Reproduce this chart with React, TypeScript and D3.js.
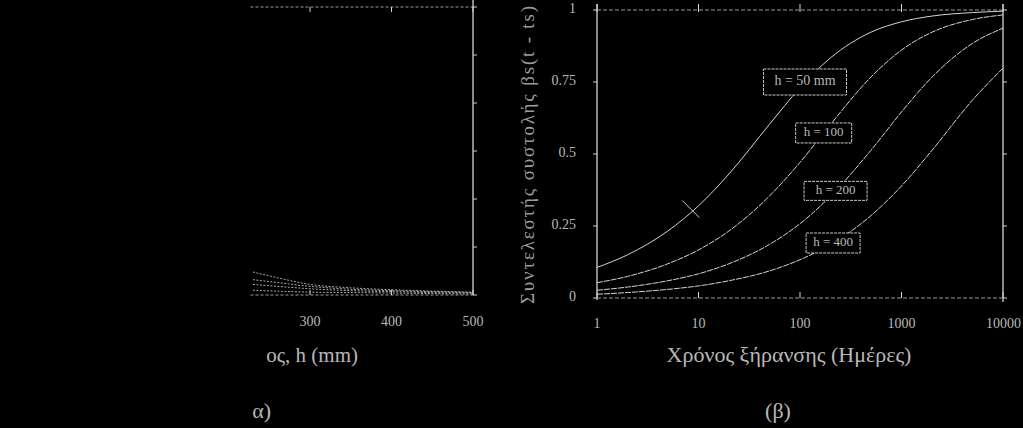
import React from 'react';
import * as d3 from 'd3';

// ---------- Right panel (β): shrinkage time coefficient vs drying time ----------
const days = [1, 2, 5, 10, 20, 50, 100, 200, 500, 1000, 2000, 5000, 10000];
const beta50 = [0.106, 0.150, 0.233, 0.320, 0.431, 0.603, 0.730, 0.834, 0.923, 0.959, 0.979, 0.991, 0.996];
const beta100 = [0.053, 0.075, 0.119, 0.167, 0.233, 0.354, 0.471, 0.603, 0.767, 0.861, 0.923, 0.967, 0.983];
const beta200 = [0.027, 0.038, 0.060, 0.084, 0.119, 0.186, 0.258, 0.354, 0.513, 0.646, 0.767, 0.884, 0.937];
const beta400 = [0.013, 0.019, 0.030, 0.042, 0.060, 0.094, 0.133, 0.186, 0.286, 0.389, 0.513, 0.687, 0.798];
const seriesBeta = [beta50, beta100, beta200, beta400];

const curveLabels = ['h = 50 mm', 'h = 100', 'h = 200', 'h = 400'];
const labelDays = [112, 171, 224, 212];
const labelValues = [0.75, 0.573, 0.372, 0.191];

const xTicks = [1, 10, 100, 1000, 10000];
const xTickLabels = ['1', '10', '100', '1000', '10000'];
const yTicks = [0, 0.25, 0.5, 0.75, 1];
const yTickLabels = ['0', '0.25', '0.5', '0.75', '1'];

// ---------- Left panel (α), mostly cut off ----------
const thickness = [230, 260, 300, 350, 400, 450, 500];
const leftA = [0.48, 0.36, 0.22, 0.15, 0.11, 0.08, 0.06];
const leftB = [0.32, 0.26, 0.18, 0.12, 0.09, 0.07, 0.05];
const leftC = [0.22, 0.18, 0.13, 0.09, 0.07, 0.05, 0.04];
const leftD = [0.10, 0.08, 0.06, 0.05, 0.04, 0.03, 0.02];
const leftSeries = [leftA, leftB, leftC, leftD];
const leftXTicks = [300, 400, 500];
const leftYTicks = [0, 1, 2, 3, 4, 5, 6];

const FONT = '"Liberation Serif", "DejaVu Serif", serif';
const LINE = '#d4d4d4';
const TEXT = '#b8b8b8';
const boxWidths = [83, 56, 63, 54];
const boxHeights = [26, 20, 19, 20];

export default function App() {
  const W = 1023, H = 428;

  // right panel scales
  const x = d3.scaleLog().domain([1, 10000]).range([597, 1003]);
  const y = d3.scaleLinear().domain([0, 1]).range([298, 10]);
  const line = d3
    .line<number>()
    .x((_, i) => x(days[i]))
    .y((d) => y(d))
    .curve(d3.curveMonotoneX);

  // left panel scales
  const lx = d3.scaleLinear().domain([0, 500]).range([65.5, 473]);
  const ly = d3.scaleLinear().domain([0, 6]).range([295, 7]);
  const lline = d3
    .line<number>()
    .x((_, i) => lx(thickness[i]))
    .y((d) => ly(d))
    .curve(d3.curveMonotoneX);

  // marker on first curve
  const markT = 8.5;
  const markV = beta50[3] * 0.97;
  const mx = x(markT), my = y(markV);

  return (
    <svg
      width={W}
      height={H}
      style={{ position: 'absolute', left: 0, top: 0, display: 'block', background: '#000' }}
    >
      <rect x={0} y={0} width={W} height={H} fill="#000" />
      <defs>
        <clipPath id="leftClip">
          <rect x={250} y={0} width={280} height={H} />
        </clipPath>
      </defs>

      {/* ---------------- Left panel ---------------- */}
      <g clipPath="url(#leftClip)">
        <line x1={lx(0)} x2={lx(500)} y1={ly(6)} y2={ly(6)} stroke="#9a9a9a" strokeWidth={1} strokeDasharray="3,2" />
        <line x1={lx(0)} x2={lx(500)} y1={ly(0)} y2={ly(0)} stroke="#9a9a9a" strokeWidth={1} strokeDasharray="3,2" />
        {leftXTicks.map((t) => (
          <g key={'lxt' + t}>
            <line x1={lx(t)} x2={lx(t)} y1={ly(0)} y2={ly(0) - 5} stroke={LINE} strokeWidth={1} />
            <line x1={lx(t)} x2={lx(t)} y1={ly(6)} y2={ly(6) + 5} stroke={LINE} strokeWidth={1} />
          </g>
        ))}
        {leftSeries.map((s, i) => (
          <path key={'ls' + i} d={lline(s) || ''} fill="none" stroke="#a8a8a8" strokeWidth={1} strokeDasharray="2,1.5" />
        ))}
      </g>
      <line x1={lx(500)} x2={lx(500)} y1={0} y2={ly(0)} stroke={LINE} strokeWidth={1.3} />
      {leftYTicks.map((t) => (
        <line key={'lyt' + t} x1={lx(500)} x2={lx(500) + 4} y1={ly(t)} y2={ly(t)} stroke={LINE} strokeWidth={1} />
      ))}
      {leftXTicks.map((t) => (
        <text key={'lxl' + t} x={lx(t)} y={323} textAnchor="middle" dominantBaseline="middle" fontFamily={FONT} fontSize={14} fill={TEXT}>
          {t}
        </text>
      ))}
      <text x={358} y={362} textAnchor="end" fontFamily={FONT} fontSize={21} fill={TEXT}>
        ος, h (mm)
      </text>
      <text x={271} y={418} textAnchor="end" fontFamily={FONT} fontSize={22} fill={TEXT}>
        α)
      </text>

      {/* ---------------- Right panel ---------------- */}
      <line x1={x(1)} x2={x(1)} y1={4} y2={300} stroke={LINE} strokeWidth={1.3} />
      <line x1={x(10000)} x2={x(10000)} y1={4} y2={302} stroke={LINE} strokeWidth={1.3} />
      <line x1={x(1)} x2={x(10000)} y1={y(0)} y2={y(0)} stroke="#9a9a9a" strokeWidth={1} strokeDasharray="4,2" />
      <line x1={x(1)} x2={x(10000)} y1={y(1)} y2={y(1)} stroke="#9a9a9a" strokeWidth={1} strokeDasharray="4,2" />

      {xTicks.map((t, i) => (
        <g key={'xt' + t}>
          <line x1={x(t)} x2={x(t)} y1={y(0)} y2={y(0) - 6} stroke={LINE} strokeWidth={1} />
          <line x1={x(t)} x2={x(t)} y1={y(1) - 6} y2={y(1) + 2} stroke={LINE} strokeWidth={1} />
          <text
            x={i === xTicks.length - 1 ? 1021 : x(t)}
            y={325}
            textAnchor={i === xTicks.length - 1 ? 'end' : 'middle'}
            dominantBaseline="middle"
            fontFamily={FONT}
            fontSize={14}
            fill={TEXT}
          >
            {xTickLabels[i]}
          </text>
        </g>
      ))}

      {yTicks.map((t, i) => (
        <g key={'yt' + t}>
          <line x1={x(1) - 4} x2={x(1)} y1={y(t)} y2={y(t)} stroke={LINE} strokeWidth={1} />
          <line x1={x(10000)} x2={x(10000) + 4} y1={y(t)} y2={y(t)} stroke={LINE} strokeWidth={1} />
          <text x={576} y={y(t)} textAnchor="end" dominantBaseline="middle" fontFamily={FONT} fontSize={14} fill={TEXT}>
            {yTickLabels[i]}
          </text>
        </g>
      ))}

      {seriesBeta.map((s, i) => (
        <path
          key={'c' + i}
          d={line(s) || ''}
          fill="none"
          stroke={LINE}
          strokeWidth={1}
          strokeDasharray={i === 0 ? undefined : '6,1'}
        />
      ))}

      <line x1={mx - 9} y1={my - 8} x2={mx + 8} y2={my + 9} stroke={LINE} strokeWidth={1} />

      {curveLabels.map((lab, i) => {
        const cx = x(labelDays[i]);
        const cy = y(labelValues[i]);
        const bw = boxWidths[i], bh = boxHeights[i];
        return (
          <g key={'lab' + i}>
            <rect
              x={cx - bw / 2}
              y={cy - bh / 2}
              width={bw}
              height={bh}
              fill="#000"
              stroke="#c8c8c8"
              strokeWidth={1}
              strokeDasharray="3,1"
            />
            <text x={cx} y={cy} textAnchor="middle" dominantBaseline="middle" fontFamily={FONT} fontSize={i === 0 ? 14 : 13} fill={TEXT}>
              {lab}
            </text>
          </g>
        );
      })}

      <text x={789} y={362} textAnchor="middle" fontFamily={FONT} fontSize={22} fill={TEXT}>
        Χρόνος ξήρανσης (Ημέρες)
      </text>
      <text x={778} y={418} textAnchor="middle" fontFamily={FONT} fontSize={22} fill={TEXT}>
        (β)
      </text>
      <text
        transform="translate(534,304) rotate(-90)"
        x={0}
        y={0}
        textAnchor="start"
        fontFamily={FONT}
        fontSize={19}
        fill="#9c9c9c"
        textLength={298}
        lengthAdjust="spacing"
      >
        Συντελεστής συστολής βs(t - ts)
      </text>
    </svg>
  );
}
